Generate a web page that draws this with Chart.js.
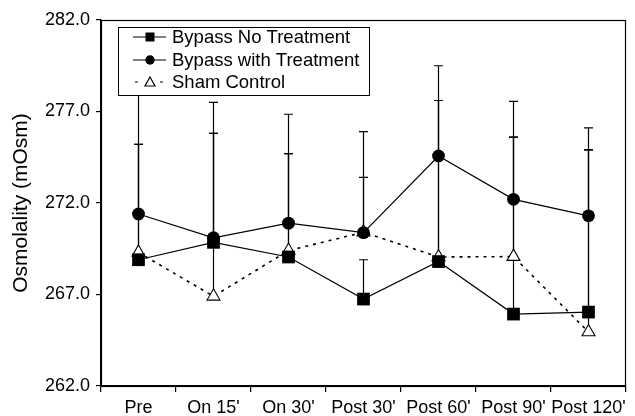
<!DOCTYPE html>
<html>
<head>
<meta charset="utf-8">
<script src="https://cdn.jsdelivr.net/npm/chart.js@4.4.1/dist/chart.umd.min.js"></script>
<style>
html,body{margin:0;padding:0;background:#fff;}
#wrap{width:635px;height:416px;}
</style>
</head>
<body>
<div id="wrap"><canvas id="c" width="635" height="416"></canvas></div>
<script>
const categories = ["Pre", "On 15'", "On 30'", "Post 30'", "Post 60'", "Post 90'", "Post 120'"];
const noTreatment = [268.9, 269.85, 269.05, 266.75, 268.8, 265.93, 266.04];
const withTreatment = [271.4, 270.1, 270.9, 270.38, 274.57, 272.2, 271.3];
const shamControl = [269.3, 266.9, 269.4, 270.4, 269.05, 269.07, 264.95];
const noTreatmentErrTop = [275.2, 275.8, 274.7, 268.9, 277.6, 275.6, 274.9];
const withTreatmentErrTop = [279.6, 277.5, 276.85, 275.9, 279.5, 277.55, 276.1];
const shamControlErrTop = [275.2, 275.8, 274.7, 273.4, 277.6, 275.6, 274.9];
const yTicks = [262, 267, 272, 277, 282];
const seriesNames = ["Bypass No Treatment", "Bypass with Treatment", "Sham Control"];

const FONT = "'Liberation Sans', Arial, Helvetica, sans-serif";

const errorBarPlugin = {
  id: 'errorBars',
  beforeDatasetsDraw(chart) {
    const ctx = chart.ctx;
    const y = chart.scales.y;
    ctx.save();
    ctx.strokeStyle = '#000';
    ctx.lineWidth = 1.2;
    chart.data.datasets.forEach((ds, i) => {
      if (!ds.errTop) return;
      const meta = chart.getDatasetMeta(i);
      meta.data.forEach((pt, j) => {
        const top = ds.errTop[j];
        if (top == null) return;
        const yt = y.getPixelForValue(top);
        ctx.beginPath();
        ctx.moveTo(pt.x, pt.y);
        ctx.lineTo(pt.x, yt);
        ctx.moveTo(pt.x - 4.5, yt);
        ctx.lineTo(pt.x + 4.5, yt);
        ctx.stroke();
      });
    });
    ctx.restore();
  }
};

const framePlugin = {
  id: 'frame',
  afterDraw(chart) {
    const ctx = chart.ctx;
    const a = chart.chartArea;
    ctx.save();
    ctx.strokeStyle = '#000';
    ctx.lineWidth = 1.2;
    ctx.strokeRect(Math.round(a.left) + 0.5, Math.round(a.top) + 0.5, Math.round(a.right - a.left) - 1, Math.round(a.bottom - a.top));
    // legend
    const lx = a.left + 17, ly = a.top + 7, lw = 251, lh = 68;
    ctx.fillStyle = '#fff';
    ctx.fillRect(lx, ly, lw, lh);
    ctx.lineWidth = 1;
    ctx.strokeRect(lx + 0.5, ly + 0.5, lw, lh);
    const rows = [ly + 10, ly + 33, ly + 55];
    const x0 = lx + 15, x1 = lx + 48, xm = lx + 32;
    ctx.fillStyle = '#000';
    ctx.lineWidth = 1.2;
    // row 1
    ctx.beginPath(); ctx.moveTo(x0, rows[0]); ctx.lineTo(x1, rows[0]); ctx.stroke();
    ctx.fillRect(xm - 4.5, rows[0] - 4.5, 9, 9);
    // row 2
    ctx.beginPath(); ctx.moveTo(x0, rows[1]); ctx.lineTo(x1, rows[1]); ctx.stroke();
    ctx.beginPath(); ctx.arc(xm, rows[1], 4.7, 0, Math.PI * 2); ctx.fill();
    // row 3
    ctx.beginPath();
    ctx.moveTo(x0 + 2, rows[2]); ctx.lineTo(x0 + 5, rows[2]);
    ctx.moveTo(x1 - 6, rows[2]); ctx.lineTo(x1 - 3, rows[2]);
    ctx.stroke();
    ctx.beginPath();
    ctx.moveTo(xm, rows[2] - 5); ctx.lineTo(xm + 5, rows[2] + 4); ctx.lineTo(xm - 5, rows[2] + 4); ctx.closePath();
    ctx.fillStyle = '#fff'; ctx.fill(); ctx.stroke();
    ctx.fillStyle = '#000';
    ctx.font = '18.5px ' + FONT;
    ctx.textBaseline = 'middle';
    ctx.textAlign = 'left';
    chart.data.datasets.forEach((ds, i) => {
      ctx.fillText(ds.label, lx + 54, rows[i] + 1);
    });
    ctx.restore();
  }
};

new Chart(document.getElementById('c'), {
  type: 'line',
  data: {
    labels: categories,
    datasets: [
      {
        label: seriesNames[0], data: noTreatment, errTop: noTreatmentErrTop,
        borderColor: '#000', borderWidth: 1.2, backgroundColor: '#000',
        pointStyle: 'rect', pointRadius: 9, pointBackgroundColor: '#000', pointBorderWidth: 0,
        order: 0, tension: 0
      },
      {
        label: seriesNames[1], data: withTreatment, errTop: withTreatmentErrTop,
        borderColor: '#000', borderWidth: 1.2, backgroundColor: '#000',
        pointStyle: 'circle', pointRadius: 6.4, pointBackgroundColor: '#000', pointBorderWidth: 0,
        order: 1, tension: 0
      },
      {
        label: seriesNames[2], data: shamControl, errTop: shamControlErrTop,
        borderColor: '#000', borderWidth: 1.6, borderDash: [3, 5], backgroundColor: '#fff',
        pointStyle: 'triangle', pointRadius: 7.5, pointBackgroundColor: '#fff', pointBorderColor: '#000', pointBorderWidth: 1.1,
        order: 2, tension: 0
      }
    ]
  },
  options: {
    responsive: false,
    animation: false,
    devicePixelRatio: 1,
    layout: { padding: { top: 20, right: 2, left: 0, bottom: 0 } },
    plugins: { legend: { display: false }, tooltip: { enabled: false } },
    scales: {
      x: {
        type: 'category',
        offset: true,
        grid: { display: true, offset: true, drawOnChartArea: false, drawTicks: true, tickLength: 6, color: '#000', lineWidth: 1.2 },
        border: { display: true, color: '#000', width: 1.2 },
        ticks: { color: '#000', font: { family: FONT, size: 18 }, padding: 5, maxRotation: 0, autoSkip: false },
        afterFit(s) { s.height = 30; }
      },
      y: {
        min: 262, max: 282,
        afterBuildTicks(s) { s.ticks = yTicks.map(v => ({ value: v })); },
        grid: { display: true, drawOnChartArea: false, drawTicks: true, tickLength: 5, color: '#000', lineWidth: 1.2 },
        border: { display: true, color: '#000', width: 1.2 },
        ticks: { color: '#000', font: { family: FONT, size: 18 }, padding: 6, callback: v => Number(v).toFixed(1) },
        title: { display: true, text: 'Osmolality (mOsm)', color: '#000', font: { family: FONT, size: 21 }, padding: { top: 9, bottom: 0 } },
        afterFit(s) { s.width = 101; }
      }
    }
  },
  plugins: [errorBarPlugin, framePlugin]
});
</script>
</body>
</html>
